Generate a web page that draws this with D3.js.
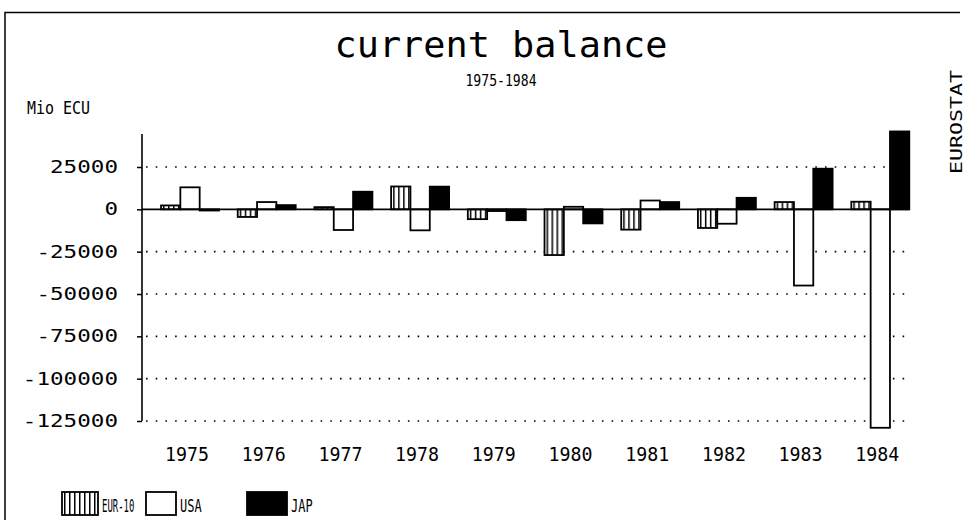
<!DOCTYPE html>
<html>
<head>
<meta charset="utf-8">
<script src="https://cdn.jsdelivr.net/npm/d3@7"></script>
<style>
  html, body { margin: 0; padding: 0; background: #fff; }
  svg text { font-family: "DejaVu Sans Mono", "Liberation Mono", monospace; fill: #000; }
</style>
</head>
<body>
<div id="chart"></div>
<script>
// chart data (Mio ECU)
const years = ["1975", "1976", "1977", "1978", "1979", "1980", "1981", "1982", "1983", "1984"];
const seriesNames = ["EUR-10", "USA", "JAP"];
const eur10 = [2300, -4500, 1300, 13500, -5800, -27000, -12000, -11000, 4300, 4500];
const usa = [13000, 4300, -12200, -12400, -1000, 1500, 5200, -8500, -45000, -129000];
const jap = [-700, 2500, 10400, 13400, -6400, -8300, 4300, 6800, 24000, 46000];
const yTicks = [25000, 0, -25000, -50000, -75000, -100000, -125000];

const width = 974, height = 520;

const svg = d3.select("#chart").append("svg")
  .attr("width", width)
  .attr("height", height);

// vertical hatch for the EUR-10 bars
const defs = svg.append("defs");
const pat = defs.append("pattern")
  .attr("id", "vstripe")
  .attr("patternUnits", "userSpaceOnUse")
  .attr("width", 5).attr("height", 10);
pat.append("rect").attr("width", 5).attr("height", 10).attr("fill", "#fff");
pat.append("rect").attr("x", 2).attr("width", 1.5).attr("height", 10).attr("fill", "#000");

const fills = { "EUR-10": "url(#vstripe)", "USA": "#fff", "JAP": "#000" };

// helper: monospace text squeezed to the plotter letter widths
function label(sel, str, charW) {
  return sel.text(str)
    .attr("textLength", str.length * charW)
    .attr("lengthAdjust", "spacingAndGlyphs");
}

// frame
svg.append("path")
  .attr("d", "M5,520 V12.5 H960")
  .attr("fill", "none")
  .attr("stroke", "#000")
  .attr("stroke-width", 1.5);

// titles
label(svg.append("text").attr("x", 501).attr("y", 57)
  .attr("text-anchor", "middle").attr("font-size", 36), "current balance", 22.2);
label(svg.append("text").attr("x", 501).attr("y", 86)
  .attr("text-anchor", "middle").attr("font-size", 15), "1975-1984", 7.9);
label(svg.append("text").attr("x", 27).attr("y", 114)
  .attr("font-size", 17), "Mio ECU", 9);

// EUROSTAT on the right edge
label(svg.append("text")
  .attr("transform", "translate(962,122) rotate(-90)")
  .attr("text-anchor", "middle").attr("font-size", 16), "EUROSTAT", 13);

// scales
const x = d3.scaleBand()
  .domain(years)
  .range([142, 909.3])
  .paddingInner(0.244)
  .paddingOuter(0.124)
  .align(1);

const xs = d3.scaleBand()
  .domain(seriesNames)
  .range([0, x.bandwidth()]);

const y = d3.scaleLinear()
  .domain([-125000, 25000])
  .range([421, 167]);

// dotted grid lines
svg.append("g")
  .selectAll("line")
  .data(yTicks.filter(d => d !== 0))
  .join("line")
  .attr("x1", 146).attr("x2", 908)
  .attr("y1", d => y(d)).attr("y2", d => y(d))
  .attr("stroke", "#000")
  .attr("stroke-width", 1.6)
  .attr("stroke-dasharray", "1.6,8.1");

// y axis
const yAxis = svg.append("g")
  .attr("transform", "translate(142,0)")
  .call(d3.axisLeft(y)
    .tickValues(yTicks)
    .tickSize(5)
    .tickPadding(19)
    .tickFormat(d => String(d)));
yAxis.select(".domain").remove();
yAxis.selectAll(".tick line").attr("stroke", "#000").attr("stroke-width", 1.5);
yAxis.selectAll(".tick text")
  .attr("font-size", 17)
  .attr("font-family", null)
  .each(function (d) { label(d3.select(this), String(d), 13.6); });

svg.append("line")
  .attr("x1", 142).attr("x2", 142)
  .attr("y1", y(44500)).attr("y2", y(-125000))
  .attr("stroke", "#000").attr("stroke-width", 1.6);

// bars
const rows = years.map((yr, i) => ({
  year: yr,
  values: [
    { key: "EUR-10", v: eur10[i] },
    { key: "USA", v: usa[i] },
    { key: "JAP", v: jap[i] }
  ]
}));

const groups = svg.append("g")
  .selectAll("g")
  .data(rows)
  .join("g")
  .attr("transform", d => `translate(${x(d.year)},0)`);

groups.selectAll("rect")
  .data(d => d.values)
  .join("rect")
  .attr("x", d => xs(d.key))
  .attr("width", xs.bandwidth())
  .attr("y", d => y(Math.max(0, d.v)))
  .attr("height", d => Math.abs(y(d.v) - y(0)))
  .attr("fill", d => fills[d.key])
  .attr("stroke", "#000")
  .attr("stroke-width", 1.8);

// zero line
svg.append("line")
  .attr("x1", 142).attr("x2", x(years[years.length - 1]) + x.bandwidth())
  .attr("y1", y(0)).attr("y2", y(0))
  .attr("stroke", "#000").attr("stroke-width", 1.8);

// year labels
svg.append("g")
  .selectAll("text")
  .data(years)
  .join("text")
  .attr("x", d => x(d) + x.bandwidth() / 2 - 3)
  .attr("y", 461)
  .attr("text-anchor", "middle")
  .attr("font-size", 19)
  .each(function (d) { label(d3.select(this), d, 11); });

// legend
const legendX = [62, 146, 247];
const legendW = [36, 30, 40];
const legend = svg.append("g")
  .selectAll("g")
  .data(seriesNames)
  .join("g")
  .attr("transform", (d, i) => `translate(${legendX[i]},492)`);

legend.append("rect")
  .attr("width", (d, i) => legendW[i])
  .attr("height", 23)
  .attr("fill", d => fills[d])
  .attr("stroke", "#000")
  .attr("stroke-width", 1.8);

legend.append("text")
  .attr("x", (d, i) => legendW[i] + 4)
  .attr("y", 20)
  .attr("font-size", 18)
  .each(function (d) { label(d3.select(this), d, d.length > 3 ? 5.4 : 7.2); });
</script>
</body>
</html>
